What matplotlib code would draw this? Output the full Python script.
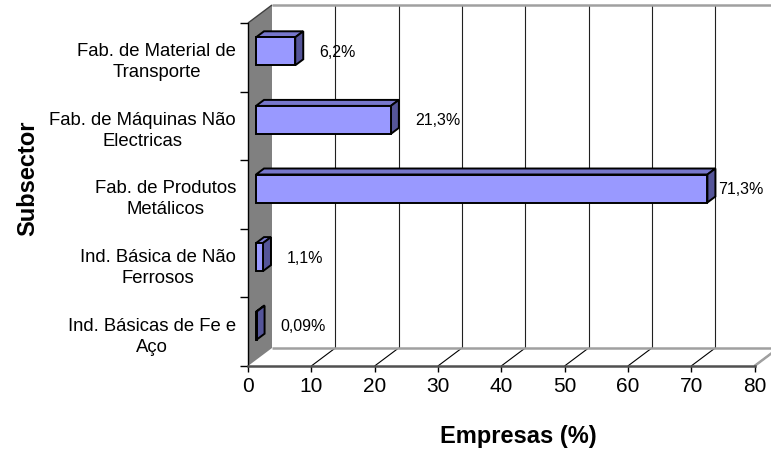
import matplotlib
matplotlib.use("Agg")
import matplotlib.pyplot as plt
from matplotlib.patches import Polygon

plt.rcParams["font.family"] = ["Liberation Sans", "DejaVu Sans"]

categories = [
    "Ind. Básicas de Fe e\nAço",
    "Ind. Básica de Não\nFerrosos",
    "Fab. de Produtos\nMetálicos",
    "Fab. de Máquinas Não\nElectricas",
    "Fab. de Material de\nTransporte",
]
values = [0.09, 1.1, 71.3, 21.3, 6.2]
value_labels = ["0,09%", "1,1%", "71,3%", "21,3%", "6,2%"]
x_ticks = [0, 10, 20, 30, 40, 50, 60, 70, 80]

W, H = 771, 452
fig = plt.figure(figsize=(W / 100, H / 100), dpi=100)
# front plane of the plot: x 248..754.5 px, y 24..367 px
ax = fig.add_axes([248 / W, (H - 367) / H, 506.5 / W, 343 / H])
ax.set_xlim(0, 80)
ax.set_ylim(0, 5)
ax.patch.set_visible(False)

ux = 80 / 506.5   # data units per pixel
uy = 5 / 343


def off(x, y, dx, dy):
    return (x + dx * ux, y + dy * uy)


DX, DY = 24, 18      # wall depth in pixels
BX, BY = 8, 6        # bar depth in pixels
xmax = 80

# floor
floor = Polygon([(0, 0), (xmax, 0), off(xmax, 0, DX, DY), off(0, 0, DX, DY)],
                closed=True, facecolor="white", edgecolor="none",
                clip_on=False, zorder=1)
ax.add_patch(floor)
# back wall
back = Polygon([off(0, 0, DX, DY), off(xmax, 0, DX, DY), off(xmax, 5, DX, DY), off(0, 5, DX, DY)],
               closed=True, facecolor="white", edgecolor="none",
               clip_on=False, zorder=1)
ax.add_patch(back)
# left wall
side = Polygon([(0, 0), (0, 5), off(0, 5, DX, DY), off(0, 0, DX, DY)],
               closed=True, facecolor="#808080", edgecolor="none",
               clip_on=False, zorder=2)
ax.add_patch(side)

kw = dict(clip_on=False, solid_capstyle="butt")
# gridlines on back wall and diagonals on the floor
for x in x_ticks[1:]:
    p0 = off(x, 0, DX, DY)
    p1 = off(x, 5, DX, DY)
    ax.plot([p0[0], p1[0]], [p0[1], p1[1]], color="#202020", lw=0.8, zorder=2, **kw)
    ax.plot([x, p0[0]], [0, p0[1]], color="black", lw=0.8, zorder=2, **kw)

# wall edges
b0 = off(0, 0, DX, DY)
b1 = off(xmax, 0, DX, DY)
t0 = off(0, 5, DX, DY)
t1 = off(xmax, 5, DX, DY)
ax.plot([b0[0], b1[0]], [b0[1], b1[1]], color="#a0a0a0", lw=1.8, zorder=2, **kw)
ax.plot([t0[0], t1[0]], [t0[1], t1[1]], color="#a0a0a0", lw=1.8, zorder=2, **kw)
ax.plot([xmax, b1[0]], [0, b1[1]], color="#a0a0a0", lw=1.8, zorder=2, **kw)
ax.plot([0, t0[0]], [5, t0[1]], color="#404040", lw=1.0, zorder=3, **kw)

# bars: front face through barh, then top and side faces
ys = [i + 0.5 for i in range(len(values))]
bh = 28 / 68.6
left = BX * ux
yc = [y + BY * uy for y in ys]
ax.barh(yc, values, height=bh, left=left, color="#9999ff",
        edgecolor="black", linewidth=1.4, zorder=5, clip_on=False)
for y, v in zip(yc, values):
    y0, y1 = y - bh / 2, y + bh / 2
    xe = left + v
    top = Polygon([(left, y1), (xe, y1), off(xe, y1, BX, BY), off(left, y1, BX, BY)],
                  closed=True, facecolor="#7777cc", edgecolor="black",
                  linewidth=1.4, joinstyle="miter", clip_on=False, zorder=4)
    rside = Polygon([(xe, y0), (xe, y1), off(xe, y1, BX, BY), off(xe, y0, BX, BY)],
                    closed=True, facecolor="#555599", edgecolor="black",
                    linewidth=1.4, joinstyle="miter", clip_on=False, zorder=4)
    ax.add_patch(top)
    ax.add_patch(rside)

# value labels
for y, v, lab in zip(yc, values, value_labels):
    lx = min(left + v + 24 * ux, 74.2)
    ax.text(lx, y, lab, ha="left", va="center", fontsize=11.5, zorder=6)

# axes
for s in ["top", "right"]:
    ax.spines[s].set_visible(False)
ax.spines["left"].set_color("black")
ax.spines["left"].set_linewidth(1.0)
ax.spines["bottom"].set_color("#505050")
ax.spines["bottom"].set_linewidth(1.8)
ax.spines["left"].set_zorder(3)
ax.spines["bottom"].set_zorder(3)

ax.set_xticks(x_ticks)
ax.set_xticklabels([str(t) for t in x_ticks], fontsize=15)
ax.tick_params(axis="x", direction="out", length=4.3, width=1, color="black", pad=3)

ax.set_yticks(range(6))
ax.set_yticklabels([])
ax.tick_params(axis="y", which="major", direction="out", length=5.8, width=1, color="black")
ax.set_yticks(ys, minor=True)
ax.set_yticklabels(categories, minor=True, fontsize=13.3)
ax.tick_params(axis="y", which="minor", length=0, pad=8.6)
for t in ax.get_yticklabels(minor=True):
    t.set_multialignment("center")
    t.set_linespacing(1.3)

ax.set_xlabel("Empresas (%)", fontsize=17, fontweight="bold")
ax.xaxis.set_label_coords(0.533, -0.168)
ax.set_ylabel("Subsector", fontsize=17, fontweight="bold")
ax.yaxis.set_label_coords(-0.412, 0.551)

fig.savefig("out.png", dpi=100)
